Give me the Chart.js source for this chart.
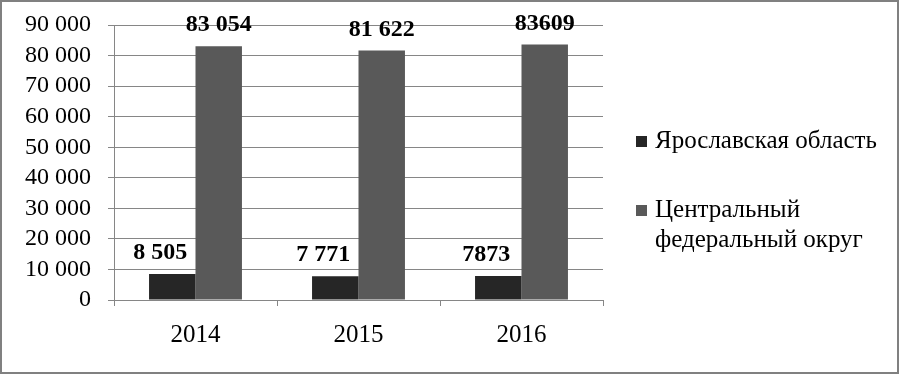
<!DOCTYPE html>
<html>
<head>
<meta charset="utf-8">
<script src="https://cdn.jsdelivr.net/npm/chart.js@4"></script>
<style>
  html, body { margin: 0; padding: 0; background: #fff; }
  canvas { display: block; }
</style>
</head>
<body>
<canvas id="c" width="899" height="374"></canvas>
<script>
const categories = ['2014', '2015', '2016'];
const seriesNames = [['Ярославская область'], ['Центральный', 'федеральный округ']];
const yaroslavlValues = [8505, 7771, 7873];
const cfoValues = [83054, 81622, 83609];
const yaroslavlLabels = ['8 505', '7 771', '7873'];
const cfoLabels = ['83 054', '81 622', '83609'];
const yTickLabels = ['0', '10 000', '20 000', '30 000', '40 000', '50 000', '60 000', '70 000', '80 000', '90 000'];

const FONT = "'Liberation Serif', 'Times New Roman', serif";
const valueLabels = [yaroslavlLabels, cfoLabels];
const labelDx = [-12, 0];

const framePlugin = {
  id: 'frame',
  beforeDraw(chart) {
    const ctx = chart.ctx;
    ctx.save();
    ctx.fillStyle = '#ffffff';
    ctx.fillRect(0, 0, chart.width, chart.height);
    ctx.restore();
  },
  afterDraw(chart) {
    const ctx = chart.ctx;
    ctx.save();
    ctx.strokeStyle = '#808080';
    ctx.lineWidth = 2;
    ctx.strokeRect(1, 1, chart.width - 2, chart.height - 2);
    ctx.restore();
  }
};

const labelPlugin = {
  id: 'valueLabels',
  afterDatasetsDraw(chart) {
    const ctx = chart.ctx;
    ctx.save();
    ctx.font = 'bold 24px ' + FONT;
    ctx.fillStyle = '#000';
    ctx.textAlign = 'center';
    ctx.textBaseline = 'middle';
    chart.data.datasets.forEach((ds, di) => {
      chart.getDatasetMeta(di).data.forEach((bar, i) => {
        ctx.fillText(valueLabels[di][i], bar.x + labelDx[di], bar.y - 21);
      });
    });
    ctx.restore();
  }
};

const legendPlugin = {
  id: 'customLegend',
  afterDraw(chart) {
    const ctx = chart.ctx;
    ctx.save();
    ctx.font = '25px ' + FONT;
    ctx.textBaseline = 'middle';
    ctx.textAlign = 'left';
    const starts = [141, 210];
    chart.data.datasets.forEach((ds, di) => {
      const y0 = starts[di];
      ctx.fillStyle = ds.backgroundColor;
      ctx.fillRect(636, y0 - 5, 11, 11);
      ctx.fillStyle = '#000';
      seriesNames[di].forEach((line, li) => {
        ctx.fillText(line, 655, y0 + li * 30);
      });
    });
    ctx.restore();
  }
};

new Chart(document.getElementById('c'), {
  type: 'bar',
  data: {
    labels: categories,
    datasets: [
      { label: seriesNames[0].join(' '), data: yaroslavlValues, backgroundColor: '#262626' },
      { label: seriesNames[1].join(' '), data: cfoValues, backgroundColor: '#595959' }
    ]
  },
  options: {
    responsive: false,
    animation: false,
    layout: { padding: { left: 0, top: 25, right: 296, bottom: 0 } },
    datasets: { bar: { categoryPercentage: 0.57, barPercentage: 1.0 } },
    plugins: { legend: { display: false }, tooltip: { enabled: false } },
    scales: {
      x: {
        afterFit(scale) { scale.height = 74; scale.paddingLeft = 0; scale.paddingRight = 0; },
        grid: { drawOnChartArea: false, drawTicks: true, tickLength: 6, color: '#868686', offset: true },
        border: { color: '#868686' },
        ticks: { font: { family: FONT, size: 25 }, color: '#000', padding: 14, maxRotation: 0, autoSkip: false }
      },
      y: {
        min: 0, max: 90000,
        afterFit(scale) { scale.width = 114; scale.paddingTop = 0; scale.paddingBottom = 0; },
        grid: { color: '#868686', tickLength: 6 },
        border: { color: '#868686' },
        ticks: {
          stepSize: 10000,
          autoSkip: false,
          font: { family: FONT, size: 24 },
          color: '#000',
          padding: 17,
          callback: (v, i) => yTickLabels[i]
        }
      }
    }
  },
  plugins: [framePlugin, labelPlugin, legendPlugin]
});
</script>
</body>
</html>
